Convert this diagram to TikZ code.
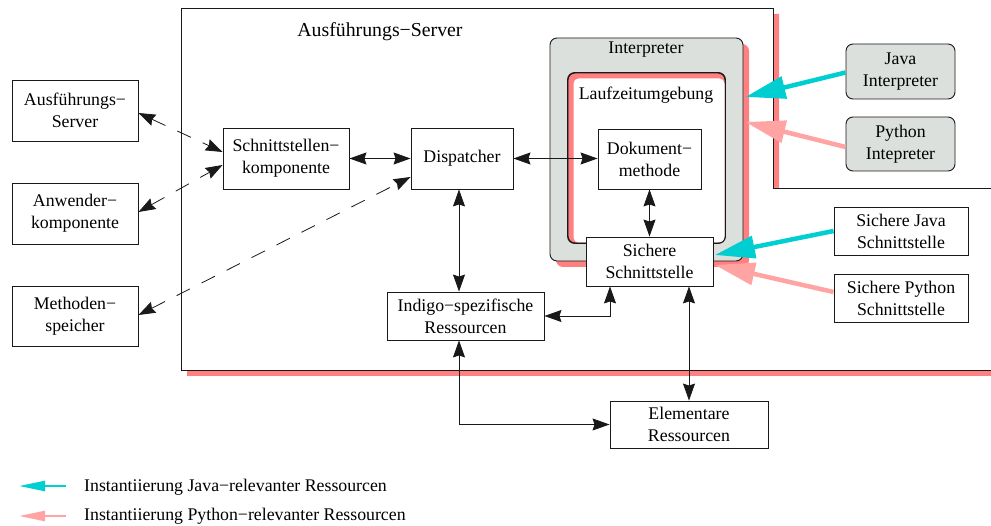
\documentclass[tikz,border=0pt]{standalone}
\usepackage{fontspec}
\setmainfont{Liberation Serif}
\usetikzlibrary{arrows.meta,calc}
\definecolor{shadowred}{RGB}{255,128,128}
\definecolor{pyrose}{RGB}{255,163,163}
\definecolor{javacyan}{RGB}{0,206,209}
\definecolor{panelgray}{RGB}{220,224,220}
\definecolor{edge}{RGB}{25,25,25}
\begin{document}
\begin{tikzpicture}[x=1pt,y=-1pt,
  font=\fontsize{17.8}{22}\selectfont,
  box/.style={draw=edge, fill=white, line width=0.9pt, align=center, inner sep=0pt},
  roundbox/.style={box, fill=panelgray, rounded corners=7pt},
  plain/.style={inner sep=0pt, align=center},
  tipA/.tip={Stealth[length=17pt,width=12pt,inset=2pt]},
  link/.style={draw=edge, line width=0.8pt, tipA-tipA},
  dashlink/.style={link, dash pattern=on 15pt off 13pt},
  javaarrow/.style={draw=javacyan, line width=4.5pt, -{Triangle[length=40pt,width=22pt]}},
  pyarrow/.style={draw=pyrose, line width=4.5pt, -{Triangle[length=40pt,width=22pt]}},
  javakey/.style={draw=javacyan, line width=2.5pt, -{Triangle[length=26pt,width=10pt]}},
  pykey/.style={draw=pyrose, line width=2.5pt, -{Triangle[length=26pt,width=10pt]}}]
\useasboundingbox (0,0) rectangle (991,526);

% execution server frame with its shadow
\fill[shadowred] (187,14) -- (779,14) -- (779,194) -- (991,194) -- (991,376) -- (187,376) -- cycle;
\fill[white] (181,8) -- (773,8) -- (773,188) -- (991,188) -- (991,370) -- (181,370) -- cycle;
\draw[edge, line width=0.9pt] (991,188) -- (773,188) -- (773,8) -- (181,8) -- (181,370) -- (991,370);
\node[plain, font=\fontsize{19.8}{24}\selectfont] (srvtitle) at (380,32) {Ausführungs−Server};

% interpreter panel
\fill[shadowred, rounded corners=7pt] (556,44) rectangle (749,267);
\node[roundbox, minimum width=193pt, minimum height=223pt] (interp) at (646.5,149.5) {};
\node[plain] (interplbl) at (646,50) {Interpreter};

% runtime environment
\node[draw=edge, line width=0.9pt, fill=shadowred, rounded corners=7pt,
      minimum width=157pt, minimum height=170pt, inner sep=0pt] (laufz) at (646.5,158) {};
\fill[white, rounded corners=5pt] (573.5,78.5) rectangle (724.5,242.5);
\draw[edge, line width=0.9pt, rounded corners=7pt] (laufz.north west) rectangle (laufz.south east);
\node[plain] (laufzlbl) at (646,95) {Laufzeitumgebung};

% boxes
\node[box, minimum width=126pt, minimum height=61pt] (lsrv) at (75,110.5) {Ausführungs−\\Server};
\node[box, minimum width=126pt, minimum height=61pt] (lanw) at (75,213.5) {Anwender−\\komponente};
\node[box, minimum width=126pt, minimum height=60pt] (lmeth) at (75,316) {Methoden−\\speicher};
\node[box, minimum width=126pt, minimum height=61pt] (schnitt) at (286,158.5) {Schnittstellen−\\komponente};
\node[box, minimum width=102pt, minimum height=61pt] (disp) at (462,158.5) {Dispatcher};
\node[box, minimum width=157pt, minimum height=48pt] (indigo) at (465.5,316) {Indigo−spezifische\\Ressourcen};
\node[box, minimum width=158pt, minimum height=47pt] (elem) at (689,424.5) {Elementare\\Ressourcen};
\node[box, minimum width=103pt, minimum height=60pt] (dok) at (649.5,159) {Dokument−\\methode};
\node[box, minimum width=127pt, minimum height=49pt] (sicher) at (649.5,261.5) {Sichere\\Schnittstelle};
\node[roundbox, minimum width=109pt, minimum height=55pt] (java) at (900.5,71.5) {Java\\Interpreter};
\node[roundbox, minimum width=109pt, minimum height=54pt] (python) at (900.5,144) {Python\\Intepreter};
\node[box, minimum width=134pt, minimum height=48pt] (sjava) at (901,231) {Sichere Java\\Schnittstelle};
\node[box, minimum width=134pt, minimum height=48pt] (spy) at (901,298) {Sichere Python\\Schnittstelle};

% connectors
\draw[dashlink] ([yshift=-2.5pt]lsrv.east) -- ([yshift=6.5pt]schnitt.west);
\draw[dashlink] ([yshift=1.5pt]lanw.east) -- ([yshift=-6.5pt]schnitt.west);
\draw[dashlink] ([yshift=1pt]lmeth.east) -- ([yshift=-18.5pt]disp.west);
\draw[link] (schnitt.east) -- (disp.west);
\draw[link] (disp.east) -- (dok.west |- disp.east);
\draw[link] (dok.south) -- (sicher.north);
\draw[link] ([xshift=-3pt]disp.south) -- ([xshift=-6.5pt]indigo.north);
\draw[link] (indigo.east) -| ([xshift=-39.5pt]sicher.south);
\draw[link] ([xshift=39.5pt]sicher.south) -- (elem.north);
\draw[link] ([xshift=-6.5pt]indigo.south) |- (elem.west);

% instantiation arrows
\draw[javaarrow] ([yshift=-1pt]java.west) -- ([xshift=2pt,yshift=52.5pt]interp.east);
\draw[pyarrow] ([yshift=-3pt]python.west) -- ([xshift=2pt,yshift=27.5pt]interp.east);
\draw[javaarrow] (sjava.west) -- ([xshift=1.5pt,yshift=6.5pt]sicher.east);
\draw[pyarrow] ([yshift=6pt]spy.west) -- ([xshift=1.5pt,yshift=-3.5pt]sicher.east);

% legend
\coordinate (kj0) at (66,486);
\coordinate (kj1) at (19,486);
\coordinate (kp0) at (66,516);
\coordinate (kp1) at (19,516);
\draw[javakey] (kj0) -- (kj1);
\draw[pykey] (kp0) -- (kp1);
\node[plain, anchor=west] (legj) at (84,487) {Instantiierung Java−relevanter Ressourcen};
\node[plain, anchor=west] (legp) at (84,516) {Instantiierung Python−relevanter Ressourcen};
\end{tikzpicture}
\end{document}
